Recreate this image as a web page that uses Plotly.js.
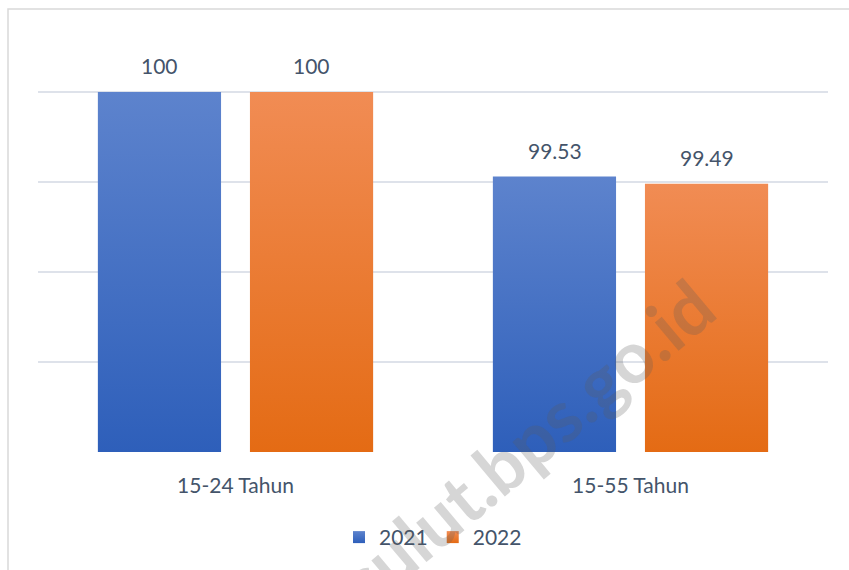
<!DOCTYPE html>
<html>
<head>
<meta charset="utf-8">
<script src="https://cdn.plot.ly/plotly-3.0.1.min.js"></script>
<style>
  html, body { margin: 0; padding: 0; background: #ffffff; }
  #chart { width: 849px; height: 570px; }
</style>
</head>
<body>
<div id="chart"></div>
<script>
// ---- data ----
const categories = ["15-24 Tahun", "15-55 Tahun"];
const seriesNames = ["2021", "2022"];
const values2021 = [100, 99.53];
const values2022 = [100, 99.49];
const gridTicks = [98, 98.5, 99, 99.5, 100];
const axisMin = 98;
const watermarkText = "sulut.bps.go.id";

// ---- styles ----
const textColor = "#44546A";
const gridColor = "#DEE2EA";
const fontFamily = "Lato, 'Open Sans', sans-serif";
const gradients = [
  { id: "grad2021", top: "rgb(93,131,205)", bottom: "rgb(46,95,186)", solid: "#4472C4" },
  { id: "grad2022", top: "rgb(241,140,84)", bottom: "rgb(228,107,20)", solid: "#ED7D31" }
];

const allSeries = [values2021, values2022];
const traces = allSeries.map((vals, i) => ({
  type: "bar",
  name: seriesNames[i],
  x: categories,
  y: vals,
  marker: { color: gradients[i].solid, line: { width: 0 } },
  hoverinfo: "skip"
}));

// value labels from data
const slotOffset = 76;
const annotations = [];
allSeries.forEach((vals, i) => {
  vals.forEach((v, j) => {
    annotations.push({
      x: categories[j], y: v, xref: "x", yref: "y",
      text: String(v), showarrow: false,
      xanchor: "center", yanchor: "bottom",
      xshift: (i === 0 ? -1 : 1) * slotOffset, yshift: 12,
      font: { family: fontFamily, size: 21, color: textColor }
    });
  });
});
// watermark
annotations.push({
  x: 0.618, y: 0.025, xref: "paper", yref: "paper",
  xanchor: "center", yanchor: "middle",
  text: "<b>" + watermarkText + "</b>", showarrow: false,
  textangle: -40,
  font: { family: "Lato, sans-serif", size: 72, color: "rgba(90,90,90,0.25)" }
});

const layout = {
  width: 849, height: 570,
  margin: { l: 38, r: 21, t: 60, b: 118 },
  paper_bgcolor: "#ffffff",
  plot_bgcolor: "#ffffff",
  barmode: "group",
  bargap: 0.23,
  bargroupgap: 0.19,
  showlegend: true,
  legend: {
    orientation: "h", x: 0.5, xanchor: "center", y: -0.218, yanchor: "middle",
    font: { family: fontFamily, size: 21, color: textColor },
    traceorder: "normal"
  },
  xaxis: {
    type: "category",
    tickfont: { family: fontFamily, size: 21, color: textColor },
    ticks: "", showgrid: false, showline: false, zeroline: false,
    ticklabelstandoff: 19
  },
  yaxis: {
    range: [axisMin, axisMin + 392 / 180],
    tickvals: gridTicks,
    showticklabels: false,
    showgrid: true, gridcolor: gridColor, gridwidth: 2,
    zeroline: false, showline: false, ticks: ""
  },
  shapes: [{
    type: "rect", xref: "paper", yref: "paper",
    x0: (8 - 38) / 790, x1: 1.2, y0: -0.5, y1: (452 - 9) / 392,
    line: { color: "#D9D9D9", width: 1.5 }, fillcolor: "rgba(0,0,0,0)", layer: "below"
  }],
  annotations: annotations,
  font: { family: fontFamily, color: textColor }
};

Plotly.newPlot("chart", traces, layout, { displayModeBar: false, staticPlot: true }).then(gd => {
  const svgNS = "http://www.w3.org/2000/svg";
  const svg = gd.querySelector(".main-svg");
  let defs = svg.querySelector("defs");
  if (!defs) { defs = document.createElementNS(svgNS, "defs"); svg.insertBefore(defs, svg.firstChild); }
  function makeGrad(id, g, units, y1, y2) {
    const lg = document.createElementNS(svgNS, "linearGradient");
    lg.setAttribute("id", id);
    lg.setAttribute("gradientUnits", units);
    lg.setAttribute("x1", "0"); lg.setAttribute("y1", String(y1));
    lg.setAttribute("x2", "0"); lg.setAttribute("y2", String(y2));
    [["0%", g.top], ["100%", g.bottom]].forEach(([off, col]) => {
      const st = document.createElementNS(svgNS, "stop");
      st.setAttribute("offset", off); st.setAttribute("stop-color", col);
      lg.appendChild(st);
    });
    defs.appendChild(lg);
  }
  const ya = gd._fullLayout.yaxis;
  const basePix = ya.l2p(axisMin);
  gd.querySelectorAll(".barlayer .trace").forEach((tr, i) => {
    tr.querySelectorAll("path").forEach((p, k) => {
      const bb = p.getBBox();
      const id = gradients[i].id + "_" + k;
      makeGrad(id, gradients[i], "userSpaceOnUse", bb.y, basePix);
      p.style.fill = "url(#" + id + ")";
    });
  });
  gradients.forEach(g => makeGrad(g.id, g, "objectBoundingBox", 0, 1));
  gd.querySelectorAll(".legend .traces").forEach((tr, i) => {
    tr.querySelectorAll(".legendpoints path").forEach(p => { p.style.fill = "url(#" + gradients[i].id + ")"; });
  });
});
</script>
</body>
</html>
